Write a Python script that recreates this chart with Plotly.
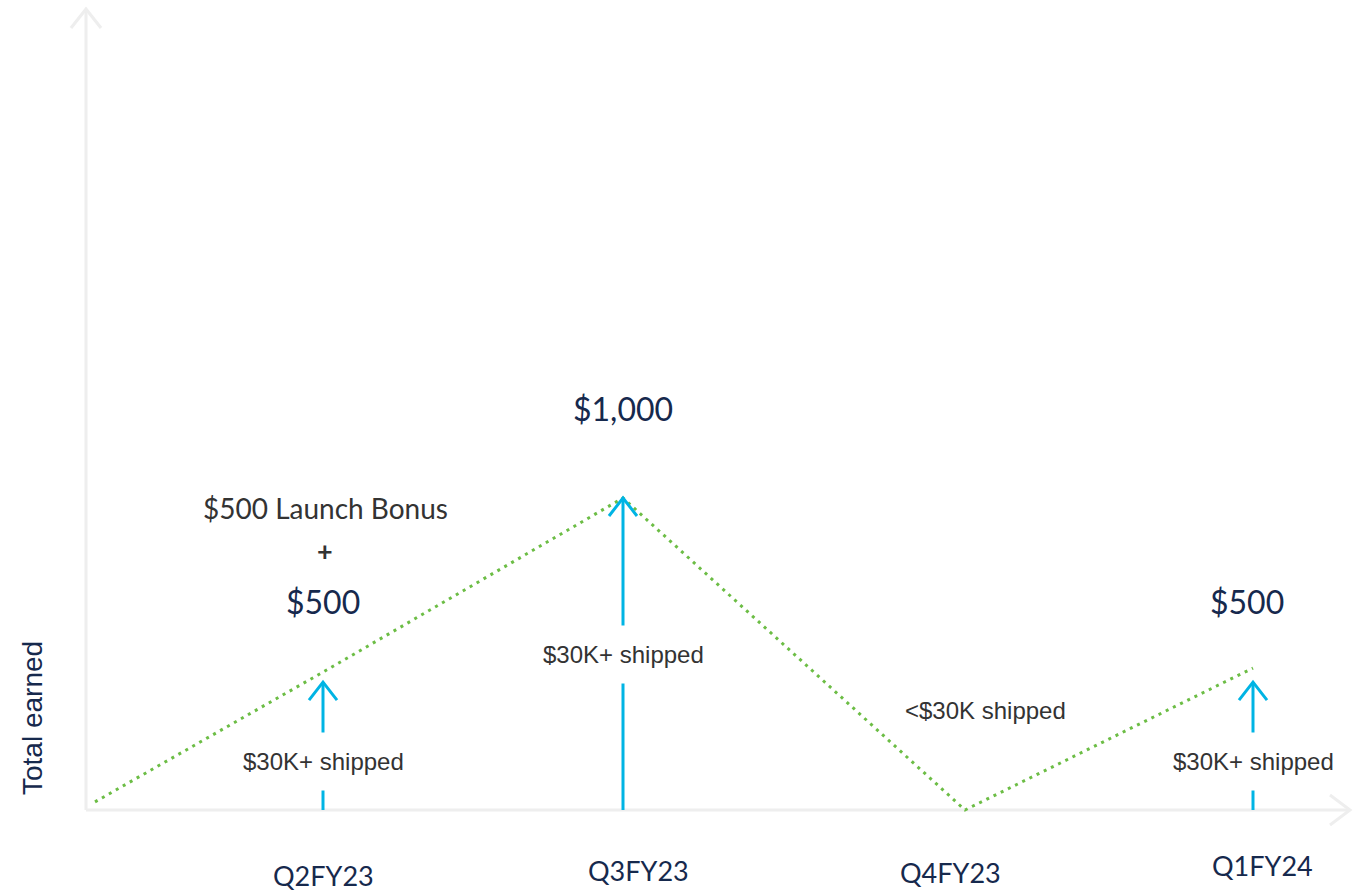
import plotly.graph_objects as go

# ---------------- data ----------------
periods = ["Q2FY23", "Q3FY23", "Q4FY23", "Q1FY24"]
period_x = [1.0, 2.05, 3.09, 4.13]

line_x = [0.24, 1.0, 2.0, 3.14, 4.10]        # quarter position
line_y = [26, 442, 1000, 0, 455]              # total earned ($)

arrow_x = [1.0, 2.0, 4.10]
arrow_y = [410, 1000, 410]
arrow_text = ["$30K+ shipped", "$30K+ shipped", "$30K+ shipped"]
arrow_text_y = [154, 497, 154]

amount_x = [1.0, 2.0, 4.08]
amount_text = ["$500", "$1,000", "$500"]
amount_y = [667, 1288, 667]

# ---------------- scale helpers (pixels -> data units) ----------------
W, H = 1361, 891
PX_X = 300.0          # pixels per quarter
PX_Y = 0.312          # pixels per dollar
X_AT = (1.0, 323)     # x value 1 sits at pixel 323
Y_BASE = 810          # pixel row of y = 0


def dx(p):
    return p / PX_X


def dy(p):
    return p / PX_Y


x_range = [X_AT[0] - dx(X_AT[1]), X_AT[0] + dx(W - X_AT[1])]
y_range = [-dy(H - Y_BASE), dy(Y_BASE)]

NAVY = "#16294d"
GREY_TXT = "#333333"
GREEN = "#6cbd45"
BLUE = "#00b4e4"
AXIS = "#eeeeee"

fig = go.Figure()

# axes (drawn as lines with open arrowheads)
ax_x0 = X_AT[0] - dx(X_AT[1] - 86)
ax_x1 = X_AT[0] + dx(1350 - X_AT[1])
ax_ytop = dy(Y_BASE - 9)
fig.add_trace(go.Scatter(
    x=[ax_x0, ax_x0, None, ax_x0, ax_x1,
       None, ax_x0 - dx(15), ax_x0, ax_x0 + dx(15),
       None, ax_x1 - dx(20), ax_x1, ax_x1 - dx(20)],
    y=[0, ax_ytop, None, 0, 0,
       None, ax_ytop - dy(19), ax_ytop, ax_ytop - dy(19),
       None, dy(15), 0, -dy(15)],
    mode="lines", line=dict(color=AXIS, width=3), hoverinfo="skip"))

# green dotted line
fig.add_trace(go.Scatter(
    x=line_x, y=line_y, mode="lines",
    line=dict(color=GREEN, width=3, dash="3px,5px"), hoverinfo="skip"))

# blue arrows
ax_, ay_ = [], []
for x, y in zip(arrow_x, arrow_y):
    ax_ += [x, x, None, x - dx(14), x, x + dx(14), None]
    ay_ += [0, y, None, y - dy(18), y, y - dy(18), None]
fig.add_trace(go.Scatter(x=ax_, y=ay_, mode="lines",
                         line=dict(color=BLUE, width=3), hoverinfo="skip"))

ann = []
for x, y, t in zip(arrow_x, arrow_text_y, arrow_text):
    ann.append(dict(x=x, y=y, text=t, showarrow=False, bgcolor="white",
                    borderpad=15,
                    font=dict(family="Liberation Sans, Arial", size=24, color=GREY_TXT)))
for x, y, t in zip(amount_x, amount_y, amount_text):
    ann.append(dict(x=x, y=y, text=t, showarrow=False,
                    font=dict(family="Lato", size=32, color=NAVY)))
ann.append(dict(x=1.007, y=dy(Y_BASE - 508), text="$500 Launch Bonus", showarrow=False,
                font=dict(family="Lato", size=28, color=GREY_TXT)))
ann.append(dict(x=1.007, y=dy(Y_BASE - 550), text="<b>+</b>", showarrow=False,
                font=dict(family="Lato", size=27, color=GREY_TXT)))
ann.append(dict(x=3.207, y=dy(Y_BASE - 710), text="<$30K shipped", showarrow=False,
                font=dict(family="Liberation Sans, Arial", size=24, color=GREY_TXT)))
for x, t, py in zip(period_x, periods, [875, 870, 872, 865]):
    ann.append(dict(x=x, y=-dy(py - Y_BASE), text=t, showarrow=False,
                    font=dict(family="Lato", size=27, color=NAVY)))
ann.append(dict(x=X_AT[0] - dx(X_AT[1] - 32), y=dy(Y_BASE - 718), text="Total earned",
                textangle=-90, showarrow=False,
                font=dict(family="Liberation Sans, Arial", size=28, color=NAVY)))

fig.update_layout(
    width=W, height=H, margin=dict(l=0, r=0, t=0, b=0),
    paper_bgcolor="white", plot_bgcolor="white", showlegend=False,
    xaxis=dict(range=x_range, visible=False, fixedrange=True),
    yaxis=dict(range=y_range, visible=False, fixedrange=True),
    annotations=ann,
)

fig.write_html("out.html", config={"displayModeBar": False},
               post_script="document.body.style.margin='0';")
